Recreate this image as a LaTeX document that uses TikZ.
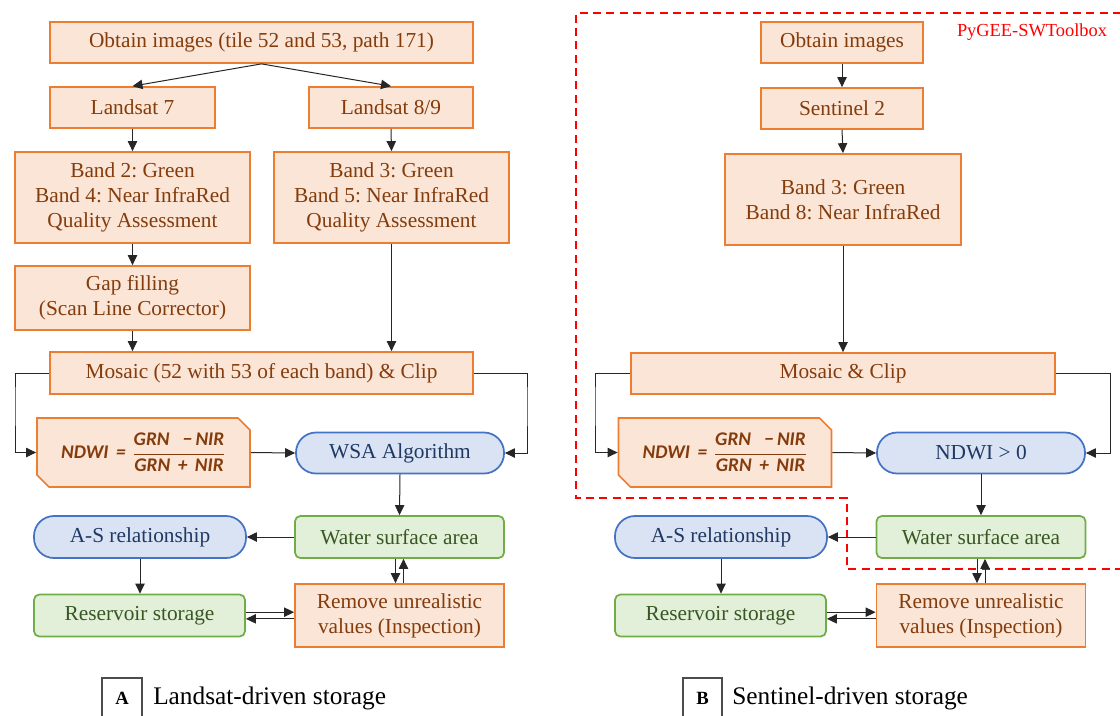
\documentclass[tikz,border=0pt]{standalone}
\usepackage{fontspec}
\setmainfont{Liberation Serif}
\newfontfamily\carl{Carlito}
\usetikzlibrary{arrows.meta,shapes.misc,calc}
\definecolor{ofill}{HTML}{FBE5D6}
\definecolor{odraw}{HTML}{ED7D31}
\definecolor{otext}{HTML}{843C0C}
\definecolor{bfill}{HTML}{DAE3F3}
\definecolor{bdraw}{HTML}{4472C4}
\definecolor{btext}{HTML}{1F3864}
\definecolor{gfill}{HTML}{E2F0D9}
\definecolor{gdraw}{HTML}{70AD47}
\definecolor{gtext}{HTML}{385723}
\definecolor{redline}{HTML}{FF0000}
\frenchspacing
\newcommand{\fsb}[1]{\mbox{\carl\bfseries\itshape #1}}
\newcommand{\ndwiformula}{{\fontsize{14.5}{16}\selectfont\fsb{NDWI \,=\,\,}$\displaystyle{\fsb{GRN \ \ −\,NIR}\over\fsb{GRN \,+\, NIR}}$}}
\begin{document}
\begin{tikzpicture}[x=0.75pt,y=-0.75pt,
  sz/.style 2 args={minimum width=#1*0.75pt, minimum height=#2*0.75pt},
  base/.style={inner sep=0pt, align=center, font=\fontsize{16}{18.75}\selectfont\frenchspacing, line width=1.3pt},
  obox/.style={base, rectangle, draw=odraw, fill=ofill, text=otext},
  bbox/.style={base, rectangle, rounded corners=15pt, draw=bdraw, fill=bfill, text=btext},
  gbox/.style={base, rectangle, rounded corners=4pt, draw=gdraw, fill=gfill, text=gtext},
  nbox/.style={base, chamfered rectangle, chamfered rectangle corners={north east,south west},
     chamfered rectangle sep=4.5pt, draw=odraw, fill=ofill, text=otext},
  arr/.style={-{Triangle[length=7.5pt,width=7pt]}, line width=0.75pt, draw=black!85},
  lblbox/.style={line width=1pt, draw=black!70},
  lbl/.style={font=\fontsize{19}{21}\selectfont, anchor=west, inner sep=0pt}
]
\useasboundingbox (0,0) rectangle (1120,715);

% ---------------- Panel A ----------------
\node[obox, sz={423}{41}] (oA) at (261.5,42.5) {Obtain images (tile 52 and 53, path 171)};
\node[obox, sz={165}{41}] (l7) at (132.5,107.5) {Landsat 7};
\node[obox, sz={164}{41}] (l89) at (391,107.5) {Landsat 8/9};
\node[obox, sz={235}{91}] (bL) at (132.5,197.5) {Band 2: Green\\Band 4: Near InfraRed\\Quality Assessment};
\node[obox, sz={235}{91}] (bR) at (391.5,197.5) {Band 3: Green\\Band 5: Near InfraRed\\Quality Assessment};
\node[obox, sz={235}{64}] (gap) at (132.5,298) {Gap filling\\(Scan Line Corrector)};
\node[obox, sz={423}{42}] (mos) at (261.5,373) {Mosaic (52 with 53 of each band) \& Clip};
\node[nbox, sz={213}{69}] (ndA) at (143.5,452.5) {\ndwiformula};
\node[bbox, sz={208}{41}] (wsa) at (400,453) {WSA Algorithm};
\node[bbox, sz={212}{42}] (asA) at (140,537) {A-S relationship};
\node[gbox, sz={209}{42}] (watA) at (399.5,537) {Water surface area};
\node[gbox, sz={211}{42}] (resA) at (139.5,615.5) {Reservoir storage};
\node[obox, sz={209}{63}] (remA) at (399.5,615.5) {Remove unrealistic\\values (Inspection)};

\coordinate (cAL) at (15,400);
\coordinate (cAR) at (527,400);

\draw[arr] (oA.south) -- (l7.north);
\draw[arr] (oA.south) -- (l89.north);
\draw[arr] (l7.south) -- (bL.north);
\draw[arr] (l89.south) -- (bR.north);
\draw[arr] (bL.south) -- (gap.north);
\draw[arr] (gap.south) -- (gap.south |- mos.north);
\draw[arr] (bR.south) -- (bR.south |- mos.north);
\draw[arr] (mos.west) -| (cAL) |- (ndA.west);
\draw[arr] (mos.east) -| (cAR) |- (wsa.east);
\draw[arr] (ndA.east) -- (wsa.west);
\draw[arr] (wsa.south) -- (watA.north);
\draw[arr] (watA.west) -- (asA.east);
\draw[arr] (asA.south) -- (asA.south |- resA.north);
\draw[arr] ([xshift=-3pt]watA.south) -- ([xshift=-3pt]watA.south |- remA.north);
\draw[arr] ([xshift=3pt]watA.south |- remA.north) -- ([xshift=3pt]watA.south);
\draw[arr] ([yshift=2.5pt]resA.east) -- ([yshift=2.5pt]resA.east -| remA.west);
\draw[arr] ([yshift=-2.5pt]resA.east -| remA.west) -- ([yshift=-2.5pt]resA.east);

% label A
\draw[lblbox] (102,716) -- (102,678) -- (142,678) -- (142,716);
\node[font=\fontsize{14}{16}\selectfont\bfseries, inner sep=0pt] (labA) at (122,698) {A};
\node[lbl] (txtA) at (153,698) {Landsat-driven storage};

% ---------------- Panel B ----------------
\draw[redline, line width=1.3pt, dash pattern=on 6pt off 4pt]
  (1121,13) -- (576,13) -- (576,498) -- (847,498) -- (847,569) -- (1121,569);
\node[text=redline, font=\fontsize{13.8}{15}\selectfont, inner sep=0pt] (pyg) at (1032,32) {PyGEE-SWToolbox};

\node[obox, sz={162}{41}] (oB) at (842,42.5) {Obtain images};
\node[obox, sz={162}{41}] (s2) at (842,108.5) {Sentinel 2};
\node[obox, sz={236}{91}] (bB) at (843,199.5) {Band 3: Green\\Band 8: Near InfraRed};
\node[obox, sz={424}{41}] (mosB) at (843,373.5) {Mosaic \& Clip};
\node[nbox, sz={213}{69}] (ndB) at (725,452.5) {\ndwiformula};
\node[bbox, sz={208}{41}] (nd0) at (981,453) {NDWI > 0};
\node[bbox, sz={212}{42}] (asB) at (721,537) {A-S relationship};
\node[gbox, sz={209}{42}] (watB) at (981,537) {Water surface area};
\node[gbox, sz={211}{42}] (resB) at (720.5,615.5) {Reservoir storage};
\node[obox, sz={209}{63}] (remB) at (981,615.5) {Remove unrealistic\\values (Inspection)};

\coordinate (cBL) at (595,400);
\coordinate (cBR) at (1110,400);

\draw[arr] (oB.south) -- (s2.north);
\draw[arr] (s2.south) -- (bB.north);
\draw[arr] (bB.south) -- (bB.south |- mosB.north);
\draw[arr] (mosB.west) -| (cBL) |- (ndB.west);
\draw[arr] (mosB.east) -| (cBR) |- (nd0.east);
\draw[arr] (ndB.east) -- (nd0.west);
\draw[arr] (nd0.south) -- (watB.north);
\draw[arr] (watB.west) -- (asB.east);
\draw[arr] (asB.south) -- (asB.south |- resB.north);
\draw[arr] ([xshift=-3pt]watB.south) -- ([xshift=-3pt]watB.south |- remB.north);
\draw[arr] ([xshift=3pt]watB.south |- remB.north) -- ([xshift=3pt]watB.south);
\draw[arr] ([yshift=2.5pt]resB.east) -- ([yshift=2.5pt]resB.east -| remB.west);
\draw[arr] ([yshift=-2.5pt]resB.east -| remB.west) -- ([yshift=-2.5pt]resB.east);

% label B
\draw[lblbox] (683,716) -- (683,678) -- (722,678) -- (722,716);
\node[font=\fontsize{14}{16}\selectfont\bfseries, inner sep=0pt] (labB) at (702.5,698) {B};
\node[lbl] (txtB) at (732,698) {Sentinel-driven storage};
\end{tikzpicture}
\end{document}
